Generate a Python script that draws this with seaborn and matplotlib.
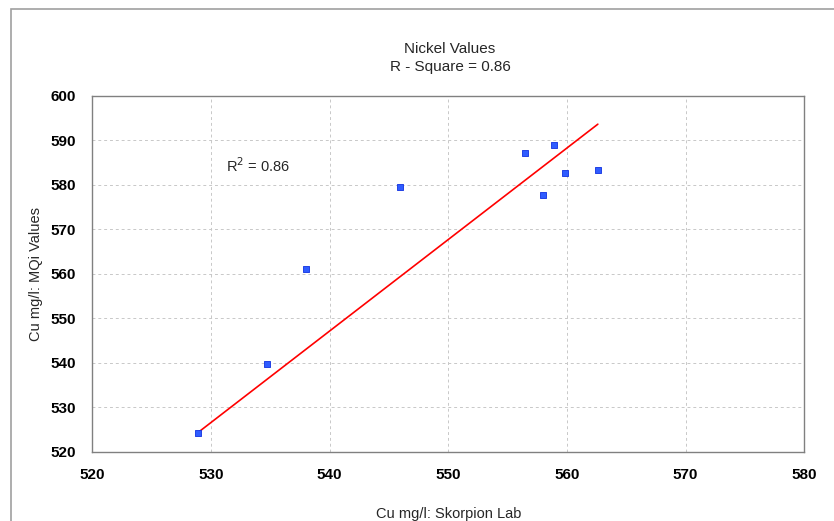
import numpy as np
import matplotlib
matplotlib.use("Agg")
import matplotlib.pyplot as plt
import seaborn as sns
import pandas as pd

# values
skorpion = [528.9, 534.75, 538.0, 545.9, 556.5, 558.9, 559.8, 558.0, 562.6]
mqi = [524.2, 539.7, 561.1, 579.4, 587.1, 588.9, 582.6, 577.6, 583.3]

# trend line as drawn in the chart (end points)
trend_x = [528.9, 562.6]
trend_y = [524.3, 593.6]

r_square = 0.86
x_ticks = [520, 530, 540, 550, 560, 570, 580]
y_ticks = [520, 530, 540, 550, 560, 570, 580, 590, 600]

df = pd.DataFrame({"skorpion": skorpion, "mqi": mqi})
trend = pd.DataFrame({"x": trend_x, "y": trend_y})

sns.set_style("white")
plt.rcParams['font.family'] = ['Liberation Sans', 'DejaVu Sans']

fig = plt.figure(figsize=(8.34, 5.21), dpi=100)
ax = fig.add_axes([0.1107, 0.1330, 0.8537, 0.6833])

# outer chart border (cropped on right / bottom like the reference)
fig.patches.append(plt.Rectangle((10.5 / 834, -0.05), 1.2, 1 - 9 / 521 + 0.05,
                                 transform=fig.transFigure, fill=False,
                                 edgecolor="#a0a0a0", linewidth=1.2))

sns.lineplot(data=trend, x="x", y="y", color="#ff0000", linewidth=1.2, ax=ax)
sns.scatterplot(data=df, x="skorpion", y="mqi", marker="s", s=20,
                color="#2f5cff", edgecolor="#1030e0", linewidth=0.6, ax=ax, zorder=3)

ax.set_xlim(520, 580)
ax.set_ylim(520, 600)
ax.set_xticks(x_ticks)
ax.set_yticks(y_ticks)
ax.tick_params(length=0, labelsize=11, pad=12, colors="black")
for lab in ax.get_xticklabels() + ax.get_yticklabels():
    lab.set_fontweight("bold")
ax.grid(True, linestyle=(0, (3, 3)), color="#c8c8c8", linewidth=0.7)
for sp in ax.spines.values():
    sp.set_color("#808080")
    sp.set_linewidth(1.0)

ax.set_xlabel("Cu mg/l: Skorpion Lab", fontsize=10.5, labelpad=18)
ax.set_ylabel("Cu mg/l: MQi Values", fontsize=10.5, labelpad=5)

fig.text(450 / 834, 1 - 49 / 521, "Nickel Values", ha="center", va="center", fontsize=11)
fig.text(450 / 834, 1 - 67 / 521, "R - Square = " + str(r_square), ha="center",
         va="center", fontsize=11)

ax.text(531.3, 584.2, "R$^2$ = " + str(r_square), fontsize=10.5, va="center")

fig.savefig("out.png", dpi=100)
